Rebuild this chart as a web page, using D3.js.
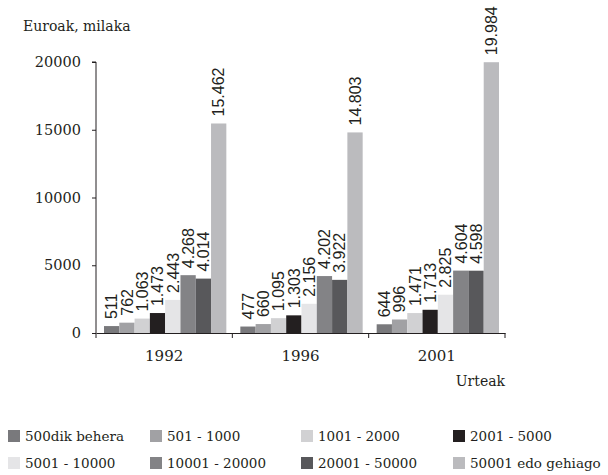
<!DOCTYPE html>
<html><head><meta charset="utf-8">
<script src="https://cdn.jsdelivr.net/npm/d3@7"></script>
<style>body{margin:0;background:#fff}svg{display:block}</style>
</head><body>
<svg id="c" width="608" height="475"></svg>
<script>
const years = ["1992", "1996", "2001"];
const seriesNames = ["500dik behera", "501 - 1000", "1001 - 2000", "2001 - 5000", "5001 - 10000", "10001 - 20000", "20001 - 50000", "50001 edo gehiago"];
const values1992 = [511, 762, 1063, 1473, 2443, 4268, 4014, 15462];
const values1996 = [477, 660, 1095, 1303, 2156, 4202, 3922, 14803];
const values2001 = [644, 996, 1471, 1713, 2825, 4604, 4598, 19984];
const yTicks = [0, 5000, 10000, 15000, 20000];
const colors = ["#79797c", "#a1a1a4", "#d1d1d3", "#231f20", "#e5e5e7", "#838386", "#58585b", "#bbbbbe"];

const valuesByYear = [values1992, values1996, values2001];
const svg = d3.select("#c");
const ink = "#231f20";
const serif = "'DejaVu Serif', serif";
const sans = "'Liberation Sans', Arial, sans-serif";

const x0 = d3.scaleBand().domain(years).range([96, 505]).padding(0);
const x1 = d3.scaleBand().domain(seriesNames).range([8, x0.bandwidth() - 6]).padding(0);
const y = d3.scaleLinear().domain([0, 20000]).range([333, 62]);

// bars
const g = svg.append("g");
years.forEach((yr, i) => {
  const gg = g.append("g").attr("transform", `translate(${x0(yr)},0)`);
  const data = seriesNames.map((s, j) => ({s, v: valuesByYear[i][j], c: colors[j]}));
  gg.selectAll("rect").data(data).join("rect")
    .attr("x", d => x1(d.s)).attr("width", x1.bandwidth())
    .attr("y", d => y(d.v)).attr("height", d => y(0) - y(d.v))
    .attr("fill", d => d.c);
  gg.selectAll("text").data(data).join("text")
    .attr("transform", d => `translate(${x1(d.s) + x1.bandwidth() / 2},${y(d.v) - 7}) rotate(-90)`)
    .attr("dy", "0.36em")
    .attr("text-anchor", "start")
    .attr("font-family", sans).attr("font-size", 16).attr("fill", ink)
    .text(d => d3.format(",")(d.v).replace(/,/g, "."));
});

// y axis
const yAxis = d3.axisLeft(y).tickValues(yTicks).tickSize(4).tickPadding(11).tickFormat(d3.format("d"));
const ya = svg.append("g").attr("transform", "translate(96,0)").call(yAxis);
ya.select(".domain").attr("stroke", ink).attr("d", `M-4,${y(20000)}H0V${y(0)}`);
ya.selectAll(".tick line").attr("stroke", ink);
ya.selectAll(".tick text").attr("font-family", serif).attr("font-size", 14.5).attr("fill", ink);

// x axis
const xa = svg.append("g").attr("transform", `translate(0,${y(0)})`)
  .call(d3.axisBottom(x0).tickSize(0).tickPadding(17));
xa.select(".domain").attr("stroke", ink);
xa.selectAll(".tick text").attr("font-family", serif).attr("font-size", 15).attr("fill", ink);
const bounds = years.map(yr => x0(yr)).concat([x0(years[years.length - 1]) + x0.bandwidth()]);
xa.selectAll("line.sep").data(bounds).join("line").attr("class", "sep")
  .attr("x1", d => d).attr("x2", d => d).attr("y1", 0).attr("y2", 5).attr("stroke", ink);

svg.append("text").attr("x", 23).attr("y", 31).attr("font-family", serif).attr("font-size", 14)
  .attr("fill", ink).text("Euroak, milaka");
svg.append("text").attr("x", 505).attr("y", 386).attr("text-anchor", "end").attr("font-family", serif)
  .attr("font-size", 14).attr("fill", ink).text("Urteak");

// legend
const legX = [8, 150, 301, 453];
const legY = [436, 463];
const leg = svg.append("g");
seriesNames.forEach((s, j) => {
  const lx = legX[j % 4], ly = legY[Math.floor(j / 4)];
  leg.append("rect").attr("x", lx).attr("y", ly - 6).attr("width", 12).attr("height", 12).attr("fill", colors[j]);
  leg.append("text").attr("x", lx + 17).attr("y", ly).attr("dy", "0.35em")
    .attr("font-family", serif).attr("font-size", 13.5).attr("fill", ink).text(s);
});
</script>
</body></html>
